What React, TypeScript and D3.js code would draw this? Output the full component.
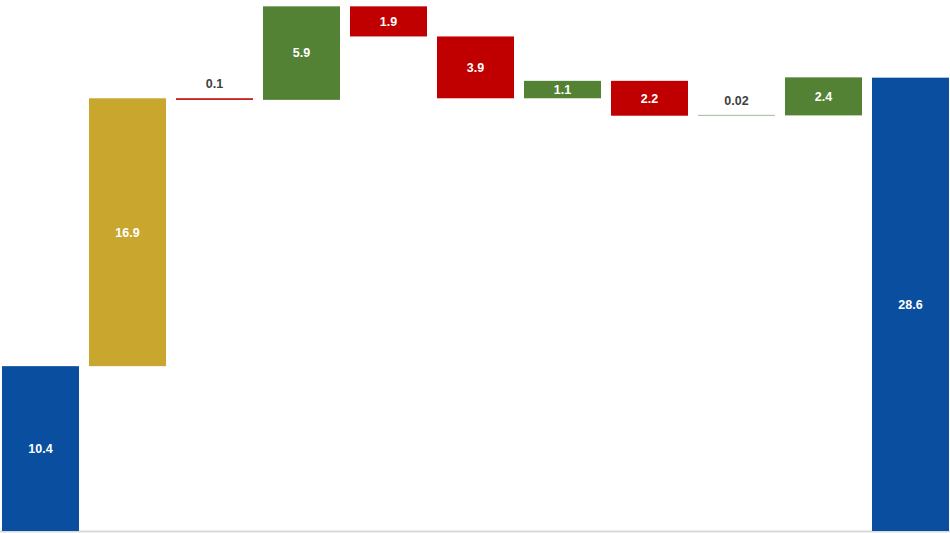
import React from "react";
import * as d3 from "d3";

const categories = ["A", "B", "C", "D", "E", "F", "G", "H", "I", "J", "K"];
const values = [10.4, 16.9, -0.1, 5.9, -1.9, -3.9, 1.1, -2.2, 0.02, 2.4, 28.6];
const kinds = ["total", "gold", "delta", "delta", "delta", "delta", "delta", "delta", "delta", "delta", "total"];
const labels = ["10.4", "16.9", "0.1", "5.9", "1.9", "3.9", "1.1", "2.2", "0.02", "2.4", "28.6"];

const W = 950;
const H = 533;

export default function App() {
  const x = d3.scaleBand<string>().domain(categories).range([2, 949]).paddingInner(10 / 87).paddingOuter(0);
  const y = d3.scaleLinear().domain([0, 33.5]).range([531, 0]);

  let running = 0;
  const bars = values.map((v, i) => {
    let y0: number, y1: number;
    if (kinds[i] === "total") {
      y0 = 0;
      y1 = v;
      running = v;
    } else {
      y0 = running;
      y1 = running + v;
      running = y1;
    }
    const top = y(Math.max(y0, y1));
    const bot = y(Math.min(y0, y1));
    let color: string;
    if (kinds[i] === "total") color = "#0A4F9F";
    else if (kinds[i] === "gold") color = "#C9A72F";
    else color = v >= 0 ? "#548235" : "#C00000";
    return { i, top, bot, color, label: labels[i], v };
  });

  return (
    <svg width={W} height={H} style={{ position: "fixed", left: 0, top: 0, background: "#fff" }}
      fontFamily="'Liberation Sans', Arial, sans-serif">
      <line x1={0} x2={W} y1={531.5} y2={531.5} stroke="#D9D9D9" strokeWidth={2} />
      {bars.map((b) => {
        const tiny = Math.abs(b.v) < 0.05;
        const h = tiny ? 1.2 : Math.max(b.bot - b.top, 0.6);
        const small = h < 15;
        const xc = (x(categories[b.i]) as number) + x.bandwidth() / 2;
        return (
          <g key={b.i}>
            <rect x={x(categories[b.i])} y={tiny ? b.top - 0.6 : b.top} width={x.bandwidth()} height={h} fill={b.color}
              opacity={tiny ? 0.45 : 1} />
            <text x={xc} y={small ? b.top - 14.5 : (b.top + b.bot) / 2} dy="0.35em" textAnchor="middle"
              fontSize={12.5} fontWeight="bold" fill={small ? "#404040" : "#FFFFFF"}>
              {b.label}
            </text>
          </g>
        );
      })}
    </svg>
  );
}
